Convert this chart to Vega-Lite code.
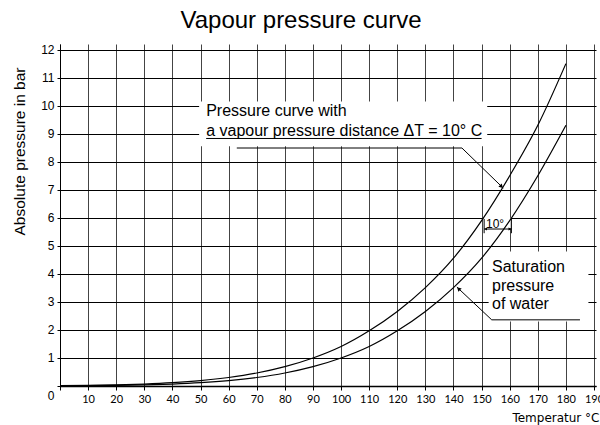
{
  "$schema": "https://vega.github.io/schema/vega-lite/v6.json",
  "width": 536,
  "height": 342,
  "autosize": {"type": "none"},
  "padding": {"left": 60, "top": 44, "right": 4, "bottom": 39},
  "title": {"text": "Vapour pressure curve", "font": "Liberation Sans", "fontSize": 24, "fontWeight": "normal", "color": "black", "offset": 11, "dx": -27},
  "config": {
    "view": {"stroke": null},
    "axis": {"domainColor": "black", "tickColor": "black", "gridOpacity": 1, "gridWidth": 1, "labelColor": "black", "titleColor": "black", "titleFontWeight": "normal"}
  },
  "encoding": {
    "x": {"field": "T", "type": "quantitative", "scale": {"domain": [0, 190.7], "nice": false, "zero": false},
      "axis": {"values": [0,10,20,30,40,50,60,70,80,90,100,110,120,130,140,150,160,170,180,190], "labelExpr": "datum.value === 0 ? '' : datum.label", "grid": true, "gridColor": "#444", "tickSize": 4, "labelPadding": 3, "labelFont": "Lato", "labelFontSize": 11, "labelFlush": false, "labelOverlap": false, "domainWidth": 1.5, "title": "Temperatur °C", "titleFont": "DejaVu Sans", "titleFontSize": 12, "titleAnchor": "end", "titleX": 539, "titlePadding": 8}},
    "y": {"field": "p", "type": "quantitative", "scale": {"domain": [0, 12.2], "nice": false},
      "axis": {"values": [0,1,2,3,4,5,6,7,8,9,10,11,12], "grid": true, "gridColor": "#000", "tickSize": 3, "labelPadding": 3, "labelFont": "Liberation Sans", "labelFontSize": 12, "labelFlush": false, "labelOffset": {"condition": {"test": "datum.value === 0", "value": 9}, "value": 0}, "title": "Absolute pressure in bar", "titleFont": "Liberation Sans", "titleFontSize": 15.5, "titlePadding": 13, "titleY": 107}}
  },
  "layer": [
    {
      "data": {"values": [
        {"T": 49.5, "T2": 152, "p": 8.55, "p2": 10.15},
        {"T": 152.5, "T2": 188, "p": 2.3, "p2": 4.8},
        {"T": 150.6, "T2": 160.4, "p": 5.62, "p2": 6.0}
      ]},
      "mark": {"type": "rect", "fill": "white"},
      "encoding": {"x2": {"field": "T2"}, "y2": {"field": "p2"}}
    },
    {
      "data": {"values": [
        {"curve": "saturation", "T": 0, "p": 0.006},
        {"curve": "saturation", "T": 10, "p": 0.012},
        {"curve": "saturation", "T": 20, "p": 0.022},
        {"curve": "saturation", "T": 30, "p": 0.04},
        {"curve": "saturation", "T": 40, "p": 0.07},
        {"curve": "saturation", "T": 50, "p": 0.118},
        {"curve": "saturation", "T": 60, "p": 0.192},
        {"curve": "saturation", "T": 70, "p": 0.303},
        {"curve": "saturation", "T": 80, "p": 0.463},
        {"curve": "saturation", "T": 90, "p": 0.69},
        {"curve": "saturation", "T": 100, "p": 1.0},
        {"curve": "saturation", "T": 110, "p": 1.41},
        {"curve": "saturation", "T": 120, "p": 1.97},
        {"curve": "saturation", "T": 130, "p": 2.66},
        {"curve": "saturation", "T": 140, "p": 3.51},
        {"curve": "saturation", "T": 150, "p": 4.56},
        {"curve": "saturation", "T": 160, "p": 5.9},
        {"curve": "saturation", "T": 170, "p": 7.5},
        {"curve": "saturation", "T": 180, "p": 9.3},
        {"curve": "distance", "T": 0, "p": 0.012},
        {"curve": "distance", "T": 10, "p": 0.022},
        {"curve": "distance", "T": 20, "p": 0.04},
        {"curve": "distance", "T": 30, "p": 0.07},
        {"curve": "distance", "T": 40, "p": 0.118},
        {"curve": "distance", "T": 50, "p": 0.192},
        {"curve": "distance", "T": 60, "p": 0.303},
        {"curve": "distance", "T": 70, "p": 0.463},
        {"curve": "distance", "T": 80, "p": 0.69},
        {"curve": "distance", "T": 90, "p": 1.0},
        {"curve": "distance", "T": 100, "p": 1.41},
        {"curve": "distance", "T": 110, "p": 1.97},
        {"curve": "distance", "T": 120, "p": 2.66},
        {"curve": "distance", "T": 130, "p": 3.51},
        {"curve": "distance", "T": 140, "p": 4.56},
        {"curve": "distance", "T": 150, "p": 5.9},
        {"curve": "distance", "T": 160, "p": 7.5},
        {"curve": "distance", "T": 170, "p": 9.3},
        {"curve": "distance", "T": 180, "p": 11.5}
      ]},
      "mark": {"type": "line", "interpolate": "monotone", "color": "black", "strokeWidth": 1.2},
      "encoding": {"detail": {"field": "curve"}}
    },
    {
      "data": {"values": [
        {"T": 52, "T2": 150, "p": 8.83, "p2": 8.83},
        {"T": 62.9, "T2": 143, "p": 8.49, "p2": 8.49},
        {"T": 143, "T2": 157.7, "p": 8.49, "p2": 7.06},
        {"T": 153.6, "T2": 141.2, "p": 2.36, "p2": 3.53},
        {"T": 153.6, "T2": 185, "p": 2.36, "p2": 2.36},
        {"T": 150.9, "T2": 160.6, "p": 5.6, "p2": 5.6},
        {"T": 150.9, "T2": 150.9, "p": 5.45, "p2": 5.96},
        {"T": 160.6, "T2": 160.6, "p": 5.45, "p2": 5.96}
      ]},
      "mark": {"type": "rule", "color": "black", "strokeWidth": 1},
      "encoding": {"x2": {"field": "T2"}, "y2": {"field": "p2"}}
    },
    {
      "data": {"values": [{"T": 156.9, "p": 7.135}]},
      "mark": {"type": "point", "shape": "triangle", "filled": true, "color": "black", "size": 22, "angle": 136, "opacity": 1},
      "encoding": {}
    },
    {
      "data": {"values": [{"T": 141.98, "p": 3.457}]},
      "mark": {"type": "point", "shape": "triangle", "filled": true, "color": "black", "size": 22, "angle": 315, "opacity": 1},
      "encoding": {}
    },
    {
      "data": {"values": [{"T": 151.6, "p": 5.6}]},
      "mark": {"type": "point", "shape": "triangle", "filled": true, "color": "black", "size": 10, "angle": 270, "opacity": 1},
      "encoding": {}
    },
    {
      "data": {"values": [{"T": 159.9, "p": 5.6}]},
      "mark": {"type": "point", "shape": "triangle", "filled": true, "color": "black", "size": 10, "angle": 90, "opacity": 1},
      "encoding": {}
    },
    {
      "data": {"values": [
        {"T": 52, "p": 9.8, "label": "Pressure curve with"},
        {"T": 52, "p": 9.08, "label": "a vapour pressure distance ΔT = 10° C"},
        {"T": 153.7, "p": 4.26, "label": "Saturation"},
        {"T": 153.7, "p": 3.57, "label": "pressure"},
        {"T": 153.7, "p": 2.93, "label": "of water"}
      ]},
      "mark": {"type": "text", "align": "left", "baseline": "middle", "font": "Liberation Sans", "fontSize": 16, "color": "black"},
      "encoding": {"text": {"field": "label"}}
    },
    {
      "data": {"values": [{"T": 154.8, "p": 5.79, "label": "10°"}]},
      "mark": {"type": "text", "align": "center", "baseline": "middle", "font": "Liberation Sans", "fontSize": 12, "color": "black"},
      "encoding": {"text": {"field": "label"}}
    }
  ]
}
